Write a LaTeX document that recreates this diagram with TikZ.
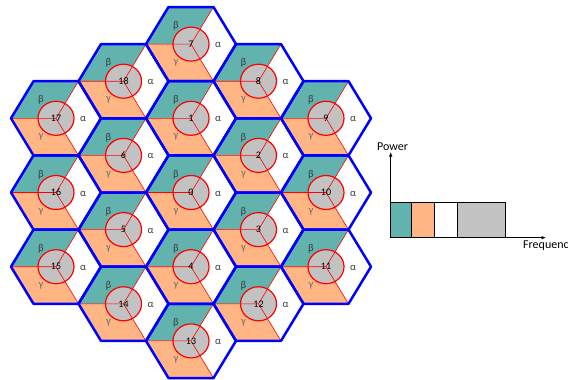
\documentclass[tikz,border=0pt]{standalone}
\usepackage{fontspec}
\setmainfont{Carlito}
\usetikzlibrary{arrows.meta}
\definecolor{cellteal}{RGB}{98,178,174}
\definecolor{cellorange}{RGB}{255,182,132}
\definecolor{cellgrey}{RGB}{194,194,194}
\definecolor{betatext}{RGB}{60,60,60}
\definecolor{gammatext}{RGB}{105,105,105}
\tikzset{
  hexedge/.style={draw=blue,line width=2.5pt,line join=round},
  splitline/.style={draw=red,line width=0.6pt},
  core/.style={fill=cellgrey,draw=red,line width=1.2pt},
  chan/.style={font=\fontsize{10}{12}\selectfont,inner sep=0pt},
  greek/.style={font=\fontsize{10.5}{12}\selectfont,inner sep=0pt},
  axislabel/.style={font=\fontsize{12}{14}\selectfont,inner sep=0pt},
  band/.style={draw=black,line width=0.8pt},
}

\begin{document}
\begin{tikzpicture}[x=1pt,y=-1pt,>={Latex[length=4.5pt,width=3.5pt]}]
  \useasboundingbox (0,0) rectangle (568,380);
  % cells: number / centre x / centre y
  \foreach \n/\cx/\cy in {17/56/118.3, 16/56/192.5, 15/56/266.7,
      18/123.5/81.2, 6/123.5/155.4, 5/123.5/229.6, 14/123.5/303.8,
      7/191/44.1, 1/191/118.3, 0/191/192.5, 4/191/266.7, 13/191/340.9,
      8/258.5/81.2, 2/258.5/155.4, 3/258.5/229.6, 12/258.5/303.8,
      9/326/118.3, 10/326/192.5, 11/326/266.7}{
    \begin{scope}[shift={(\cx,\cy)}]
      \fill[cellteal] (0,0) -- (-45,0) -- (-22.5,-37.1) -- (22.5,-37.1) -- cycle;
      \fill[cellorange] (0,0) -- (-45,0) -- (-22.5,37.1) -- (22.5,37.1) -- cycle;
      \draw[core] (0,0) ellipse [x radius=18,y radius=17];
      \draw[splitline] (-45,0) -- (0,0) -- (22.5,-37.1) (0,0) -- (22.5,37.1);
      \node[chan] (n\n) at (0,0) {\n};
      \node[greek,text=betatext] (b\n) at (-15,-18) {β};
      \node[greek,text=gammatext] (g\n) at (-15,19) {γ};
      \node[greek,text=betatext] (a\n) at (27,1) {α};
    \end{scope}
  }
  % blue cell borders on top
  \foreach \cx/\cy in {56/118.3, 56/192.5, 56/266.7,
      123.5/81.2, 123.5/155.4, 123.5/229.6, 123.5/303.8,
      191/44.1, 191/118.3, 191/192.5, 191/266.7, 191/340.9,
      258.5/81.2, 258.5/155.4, 258.5/229.6, 258.5/303.8,
      326/118.3, 326/192.5, 326/266.7}{
    \draw[hexedge,shift={(\cx,\cy)}] (-45,0) -- (-22.5,-37.1) -- (22.5,-37.1)
      -- (45,0) -- (22.5,37.1) -- (-22.5,37.1) -- cycle;
  }
  % spectrum
  \coordinate (origin) at (390.7,237.7);
  \coordinate (ytip) at (390.7,152);
  \coordinate (xtip) at (546,237.7);
  \draw[band,fill=cellteal] (390.7,202.3) rectangle (411.7,237.7);
  \draw[band,fill=cellorange] (411.7,202.3) rectangle (434.3,237.7);
  \draw[band,fill=white] (434.3,202.3) rectangle (457.3,237.7);
  \draw[band,fill=cellgrey] (457.3,202.3) rectangle (505.7,237.7);
  \draw[->,line width=0.8pt] (origin) -- (ytip);
  \draw[->,line width=0.8pt] (origin) -- (xtip);
  \node[axislabel,anchor=base] (power) at (392.5,150.7) {Power};
  \node[axislabel,anchor=base west] (freq) at (523,248) {Frequency};
\end{tikzpicture}
\end{document}
